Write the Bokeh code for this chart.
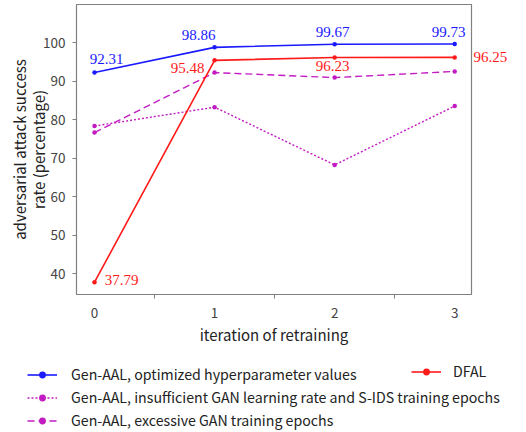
from bokeh.plotting import figure
from bokeh.models import (Range1d, FixedTicker, Legend, LegendItem, Label, LinearAxis)
from bokeh.embed import file_html
from bokeh.resources import INLINE

# ---- data ----
iterations = [0, 1, 2, 3]
gen_opt = [92.31, 98.86, 99.67, 99.73]
dfal = [37.79, 95.48, 96.23, 96.25]
gen_insufficient = [78.4, 83.3, 68.3, 83.6]
gen_excessive = [76.7, 92.3, 91.0, 92.6]
y_ticks = [40, 50, 60, 70, 80, 90, 100]
x_ticks = [0, 1, 2, 3]
x_minor = [0.5, 1.5, 2.5]
labels_opt = ["92.31", "98.86", "99.67", "99.73"]
labels_dfal = ["37.79", "95.48", "96.23", "96.25"]
series_names = ["Gen-AAL, optimized hyperparameter values",
                "Gen-AAL, insufficient GAN learning rate and S-IDS training epochs",
                "Gen-AAL, excessive GAN training epochs",
                "DFAL"]

BLUE = "#1a1aff"
RED = "#ff1a1a"
MAG = "#c21bc2"
SANS = "Noto Sans CJK SC"
SERIF = "Liberation Serif"

X_RANGE = (-0.15, 3.14)
Y_RANGE = (34.6, 110.0)

p = figure(width=526, height=347, output_backend="svg", toolbar_location=None,
           x_range=Range1d(*X_RANGE), y_range=Range1d(*Y_RANGE),
           min_border_left=76, min_border_right=55, min_border_top=4,
           min_border_bottom=48)
p.grid.visible = False
p.outline_line_color = "#808080"
p.outline_line_width = 1.2

styles = [dict(color=BLUE, line_width=1.6),
          dict(color=MAG, line_width=1.4, line_dash="2 2"),
          dict(color=MAG, line_width=1.4, line_dash="7 4"),
          dict(color=RED, line_width=1.6)]
series = [gen_opt, gen_insufficient, gen_excessive, dfal]

for ys, st in zip(series, styles):
    p.line(iterations, ys, **st)
    p.scatter(iterations, ys, color=st["color"], size=4.5, line_width=0)

# value labels (inside the frame)
opt_off = [(12, 14), (-16, 12), (-2, 12), (-6, 12)]
dfal_off = [(27, 2), (-27, -8), (-2, -9)]
for x, y, t, (dx, dy) in zip(iterations, gen_opt, labels_opt, opt_off):
    p.add_layout(Label(x=x, y=y, text=t, x_offset=dx, y_offset=dy, text_align="center",
                       text_baseline="middle", text_color=BLUE, text_font=SERIF,
                       text_font_size="15px"))
for x, y, t, (dx, dy) in zip(iterations[:3], dfal[:3], labels_dfal[:3], dfal_off):
    p.add_layout(Label(x=x, y=y, text=t, x_offset=dx, y_offset=dy, text_align="center",
                       text_baseline="middle", text_color=RED, text_font=SERIF,
                       text_font_size="15px"))

# last DFAL value sits outside the frame on the right: show it as a right-side tick label
ra = LinearAxis(ticker=FixedTicker(ticks=[dfal[-1]]),
                major_label_overrides={dfal[-1]: labels_dfal[-1]})
ra.axis_line_color = None
ra.major_tick_line_color = None
ra.major_tick_out = 0
ra.major_tick_in = 0
ra.minor_tick_line_color = None
ra.minor_tick_out = 0
ra.minor_tick_in = 0
ra.axis_label_standoff = 0
ra.major_label_standoff = 2
ra.major_label_text_font = SERIF
ra.major_label_text_font_size = "15px"
ra.major_label_text_color = RED
p.add_layout(ra, "right")

# axes
xa = p.xaxis[0]
xa.ticker = FixedTicker(ticks=x_ticks, minor_ticks=x_minor)
xa.axis_label = "iteration of retraining"
xa.major_tick_line_color = None
xa.major_tick_in = 0
xa.major_tick_out = 4
xa.minor_tick_in = 0
xa.minor_tick_out = 4
xa.minor_tick_line_color = "#808080"
xa.axis_line_color = None
xa.major_label_standoff = 9
xa.axis_label_standoff = 3

ya = p.yaxis[0]
ya.ticker = FixedTicker(ticks=y_ticks)
ya.axis_label = "adversarial attack success\nrate (percentage)"
ya.axis_label_text_line_height = 0.9
ya.major_tick_in = 0
ya.major_tick_out = 4
ya.major_tick_line_color = "#808080"
ya.minor_tick_line_color = None
ya.axis_line_color = None
ya.major_label_standoff = 7
ya.axis_label_standoff = -9

for ax in (xa, ya):
    ax.major_label_text_font = SANS
    ax.major_label_text_font_size = "13.5px"
    ax.major_label_text_color = "#444444"
    ax.axis_label_text_font = SANS
    ax.axis_label_text_font_size = "15px"
    ax.axis_label_text_font_style = "normal"
    ax.axis_label_text_color = "#222222"

# ---- legend strip below the chart (separate root, not frame-aligned) ----
lp = figure(width=526, height=85, output_backend="svg", toolbar_location=None,
            x_range=Range1d(*X_RANGE), y_range=Range1d(0, 1),
            min_border=0, outline_line_color=None)
lp.axis.visible = False
lp.grid.visible = False
leg_r = []
for ys, st in zip(series, styles):
    # same series, outside this strip's y range: only their legend glyphs show
    l = lp.line(iterations, ys, **st)
    s = lp.scatter(iterations, ys, color=st["color"], size=4.5, line_width=0)
    leg_r.append([l, s])

def make_legend(idx, loc, standoff):
    lg = Legend(items=[LegendItem(label=series_names[i], renderers=leg_r[i]) for i in idx],
                location=loc, orientation="vertical",
                glyph_width=30, glyph_height=17, label_height=17, spacing=3,
                label_standoff=standoff, padding=0, margin=0,
                border_line_color=None, background_fill_alpha=0,
                label_text_font=SANS, label_text_font_size="14.2px",
                label_text_color="#222222")
    lp.add_layout(lg, "center")

make_legend([0, 1, 2], (27, 2), 14)
make_legend([3], (411, 51), 12)

open("out.html", "w").write(file_html([p, lp], INLINE))
